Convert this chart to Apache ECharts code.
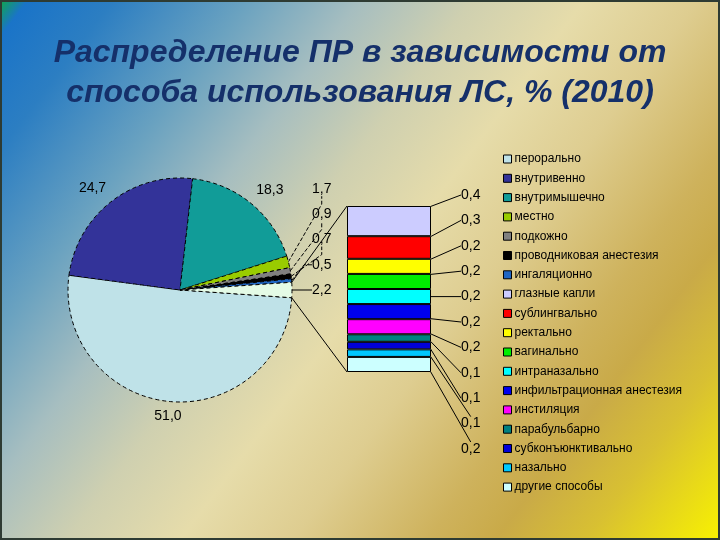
<!DOCTYPE html>
<html><head><meta charset="utf-8">
<script src="https://cdn.jsdelivr.net/npm/echarts/dist/echarts.min.js"></script>
<style>html,body{margin:0;padding:0;width:720px;height:540px;overflow:hidden}#c{width:720px;height:540px}</style>
</head><body><div id="c"></div>
<script>
// ---- data ----
const titleText = 'Распределение ПР в зависимости от\nспособа использования ЛС, % (2010)';
const pieNames = ['перорально','внутривенно','внутримышечно','местно','подкожно','проводниковая анестезия','ингаляционно'];
const pieValues = [51.0, 24.7, 18.3, 1.7, 0.9, 0.7, 0.5];
const otherName = 'прочие способы (столбец)';
const otherValue = 2.2;
const barCategory = ['прочие'];
const barNames = ['глазные капли','сублингвально','ректально','вагинально','интраназально','инфильтрационная анестезия','инстиляция','парабульбарно','субконъюнктивально','назально','другие способы'];
const barValues = [0.4, 0.3, 0.2, 0.2, 0.2, 0.2, 0.2, 0.1, 0.1, 0.1, 0.2];

// ---- styles ----
const pieColors = ['#bfe2e8','#333399','#119c98','#99cc00','#808080','#000000','#1f66c4'];
const otherColor = '#e4fbe6';
const barColors = ['#ccccff','#ff0000','#ffff00','#00ee00','#00ffff','#0000ee','#ff00ff','#008080','#0000d8','#00c8ff','#ccffff'];
const FONT = '"Liberation Sans", Arial, sans-serif';
const pieCenter = [180, 290], pieRadius = 112;
const barGrid = {left: 347, top: 206, width: 84, height: 166};
const barWidth = 84;
const bigCount = 3;

const fmt = v => v.toFixed(1).replace('.', ',');
const total = pieValues.reduce((a, b) => a + b, 0) + otherValue;
const otherAngle = otherValue / total * 360;
const startAngle = -otherAngle / 2;
const allPieNames = pieNames.concat([otherName]);
const allPieValues = pieValues.concat([otherValue]);
const allPieColors = pieColors.concat([otherColor]);
const midAngles = [];
(function () { let acc = startAngle; allPieValues.forEach(v => { const a = v / total * 360; midAngles.push(acc - a / 2); acc -= a; }); })();

function pieLabelLayout(p) {
  const i = p.dataIndex;
  const cx = pieCenter[0], cy = pieCenter[1];
  if (i < bigCount) {
    const m = midAngles[i] * Math.PI / 180;
    const R = pieRadius + 8;
    const c = Math.cos(m), s = Math.sin(m);
    return {x: cx + R * c, y: cy - R * s,
      align: Math.abs(c) < 0.3 ? 'center' : (c > 0 ? 'left' : 'right'),
      verticalAlign: s > 0 ? 'bottom' : 'top'};
  }
  const n = allPieValues.length - bigCount - 1;
  const j = i - bigCount;
  return {x: cx + pieRadius + 20, y: cy + (j - n) * 25.2, align: 'left', verticalAlign: 'middle'};
}
function barLabelLayout(p) {
  const k = p.seriesIndex - 1;
  return {x: barGrid.left + barGrid.width + 30, y: barGrid.top - 11 + k * 25.4, align: 'left', verticalAlign: 'middle'};
}

const pieData = allPieNames.map((name, i) => ({
  name: name, value: allPieValues[i],
  itemStyle: {color: allPieColors[i]},
  labelLine: i < bigCount ? {show: false} : {show: true, lineStyle: {type: i === allPieNames.length - 1 ? 'solid' : 'dashed'}}
}));

const series = [{
  type: 'pie', center: pieCenter, radius: pieRadius, startAngle: startAngle, clockwise: true,
  avoidLabelOverlap: false, animation: false, silent: true,
  itemStyle: {borderColor: '#000', borderWidth: 1, borderType: [4, 3]},
  label: {show: true, position: 'outside', formatter: p => fmt(p.value), color: '#000', fontSize: 14, fontFamily: FONT},
  labelLine: {show: true, length: 10, length2: 8, lineStyle: {color: '#000', width: 1}},
  labelLayout: pieLabelLayout,
  data: pieData
}];
barNames.forEach((name, k) => {
  series.push({
    type: 'bar', name: name, stack: 'rest', barWidth: barWidth, silent: true, animation: false,
    itemStyle: {color: barColors[k], borderColor: '#000', borderWidth: 1},
    label: {show: true, position: 'right', formatter: p => fmt(p.value), color: '#000', fontSize: 14, fontFamily: FONT},
    labelLine: {show: true, lineStyle: {color: '#000', width: 1}},
    labelLayout: barLabelLayout,
    data: [barValues[k]]
  });
});

const chart = echarts.init(document.getElementById('c'));
chart.setOption({
  animation: false,
  backgroundColor: new echarts.graphic.LinearGradient(0, 0, 1, 1, [
    {offset: 0, color: '#10a848'}, {offset: 0.025, color: '#1a74c8'}, {offset: 0.1, color: '#2c7ec2'},
    {offset: 0.22, color: '#6aa2c0'}, {offset: 0.32, color: '#a6bec0'}, {offset: 0.42, color: '#cfd0b0'},
    {offset: 0.52, color: '#e6dcaa'}, {offset: 0.62, color: '#decd90'}, {offset: 0.74, color: '#ceb25c'},
    {offset: 0.8, color: '#c9aa48'}, {offset: 0.88, color: '#d8c032'}, {offset: 1, color: '#f8f200'}
  ]),
  title: {
    text: titleText, left: 'center', top: 28,
    textStyle: {fontFamily: FONT, fontStyle: 'italic', fontWeight: 'bold', fontSize: 32, lineHeight: 40, color: '#15306a'}
  },
  legend: {
    orient: 'vertical', left: 503, top: 153, padding: 0, selectedMode: false,
    icon: 'rect', itemWidth: 8, itemHeight: 8, itemGap: 7.3,
    itemStyle: {borderColor: '#000', borderWidth: 1, borderType: 'solid'},
    textStyle: {fontFamily: FONT, fontSize: 12, lineHeight: 12, color: '#000', padding: [0, 0, 0, -2]},
    data: pieNames.concat(barNames)
  },
  grid: {left: barGrid.left, top: barGrid.top, width: barGrid.width, height: barGrid.height, containLabel: false},
  xAxis: {type: 'category', data: barCategory, show: false},
  yAxis: {type: 'value', inverse: true, min: 0, max: barValues.reduce((a, b) => a + b, 0), show: false},
  series: series
});

// connector lines from the aggregated slice to the stacked bar
(function () {
  const sumBar = barValues.reduce((a, b) => a + b, 0);
  const xc = chart.convertToPixel({xAxisIndex: 0}, barCategory[0]);
  const yTop = chart.convertToPixel({yAxisIndex: 0}, 0);
  const yBot = chart.convertToPixel({yAxisIndex: 0}, sumBar);
  const xl = xc - barWidth / 2;
  const a1 = (startAngle + otherAngle) * Math.PI / 180, a2 = startAngle * Math.PI / 180;
  const p1 = [pieCenter[0] + pieRadius * Math.cos(a1), pieCenter[1] - pieRadius * Math.sin(a1)];
  const p2 = [pieCenter[0] + pieRadius * Math.cos(a2), pieCenter[1] - pieRadius * Math.sin(a2)];
  chart.setOption({graphic: [
    {type: 'line', silent: true, shape: {x1: p1[0], y1: p1[1], x2: xl, y2: yTop}, style: {stroke: '#000', lineWidth: 1}},
    {type: 'line', silent: true, shape: {x1: p2[0], y1: p2[1], x2: xl, y2: yBot}, style: {stroke: '#000', lineWidth: 1}},
    {type: 'rect', silent: true, shape: {x: 1, y: 1, width: 718, height: 538}, style: {fill: 'none', stroke: '#2e3b33', lineWidth: 2}}
  ]});
})();
</script>
</body></html>
